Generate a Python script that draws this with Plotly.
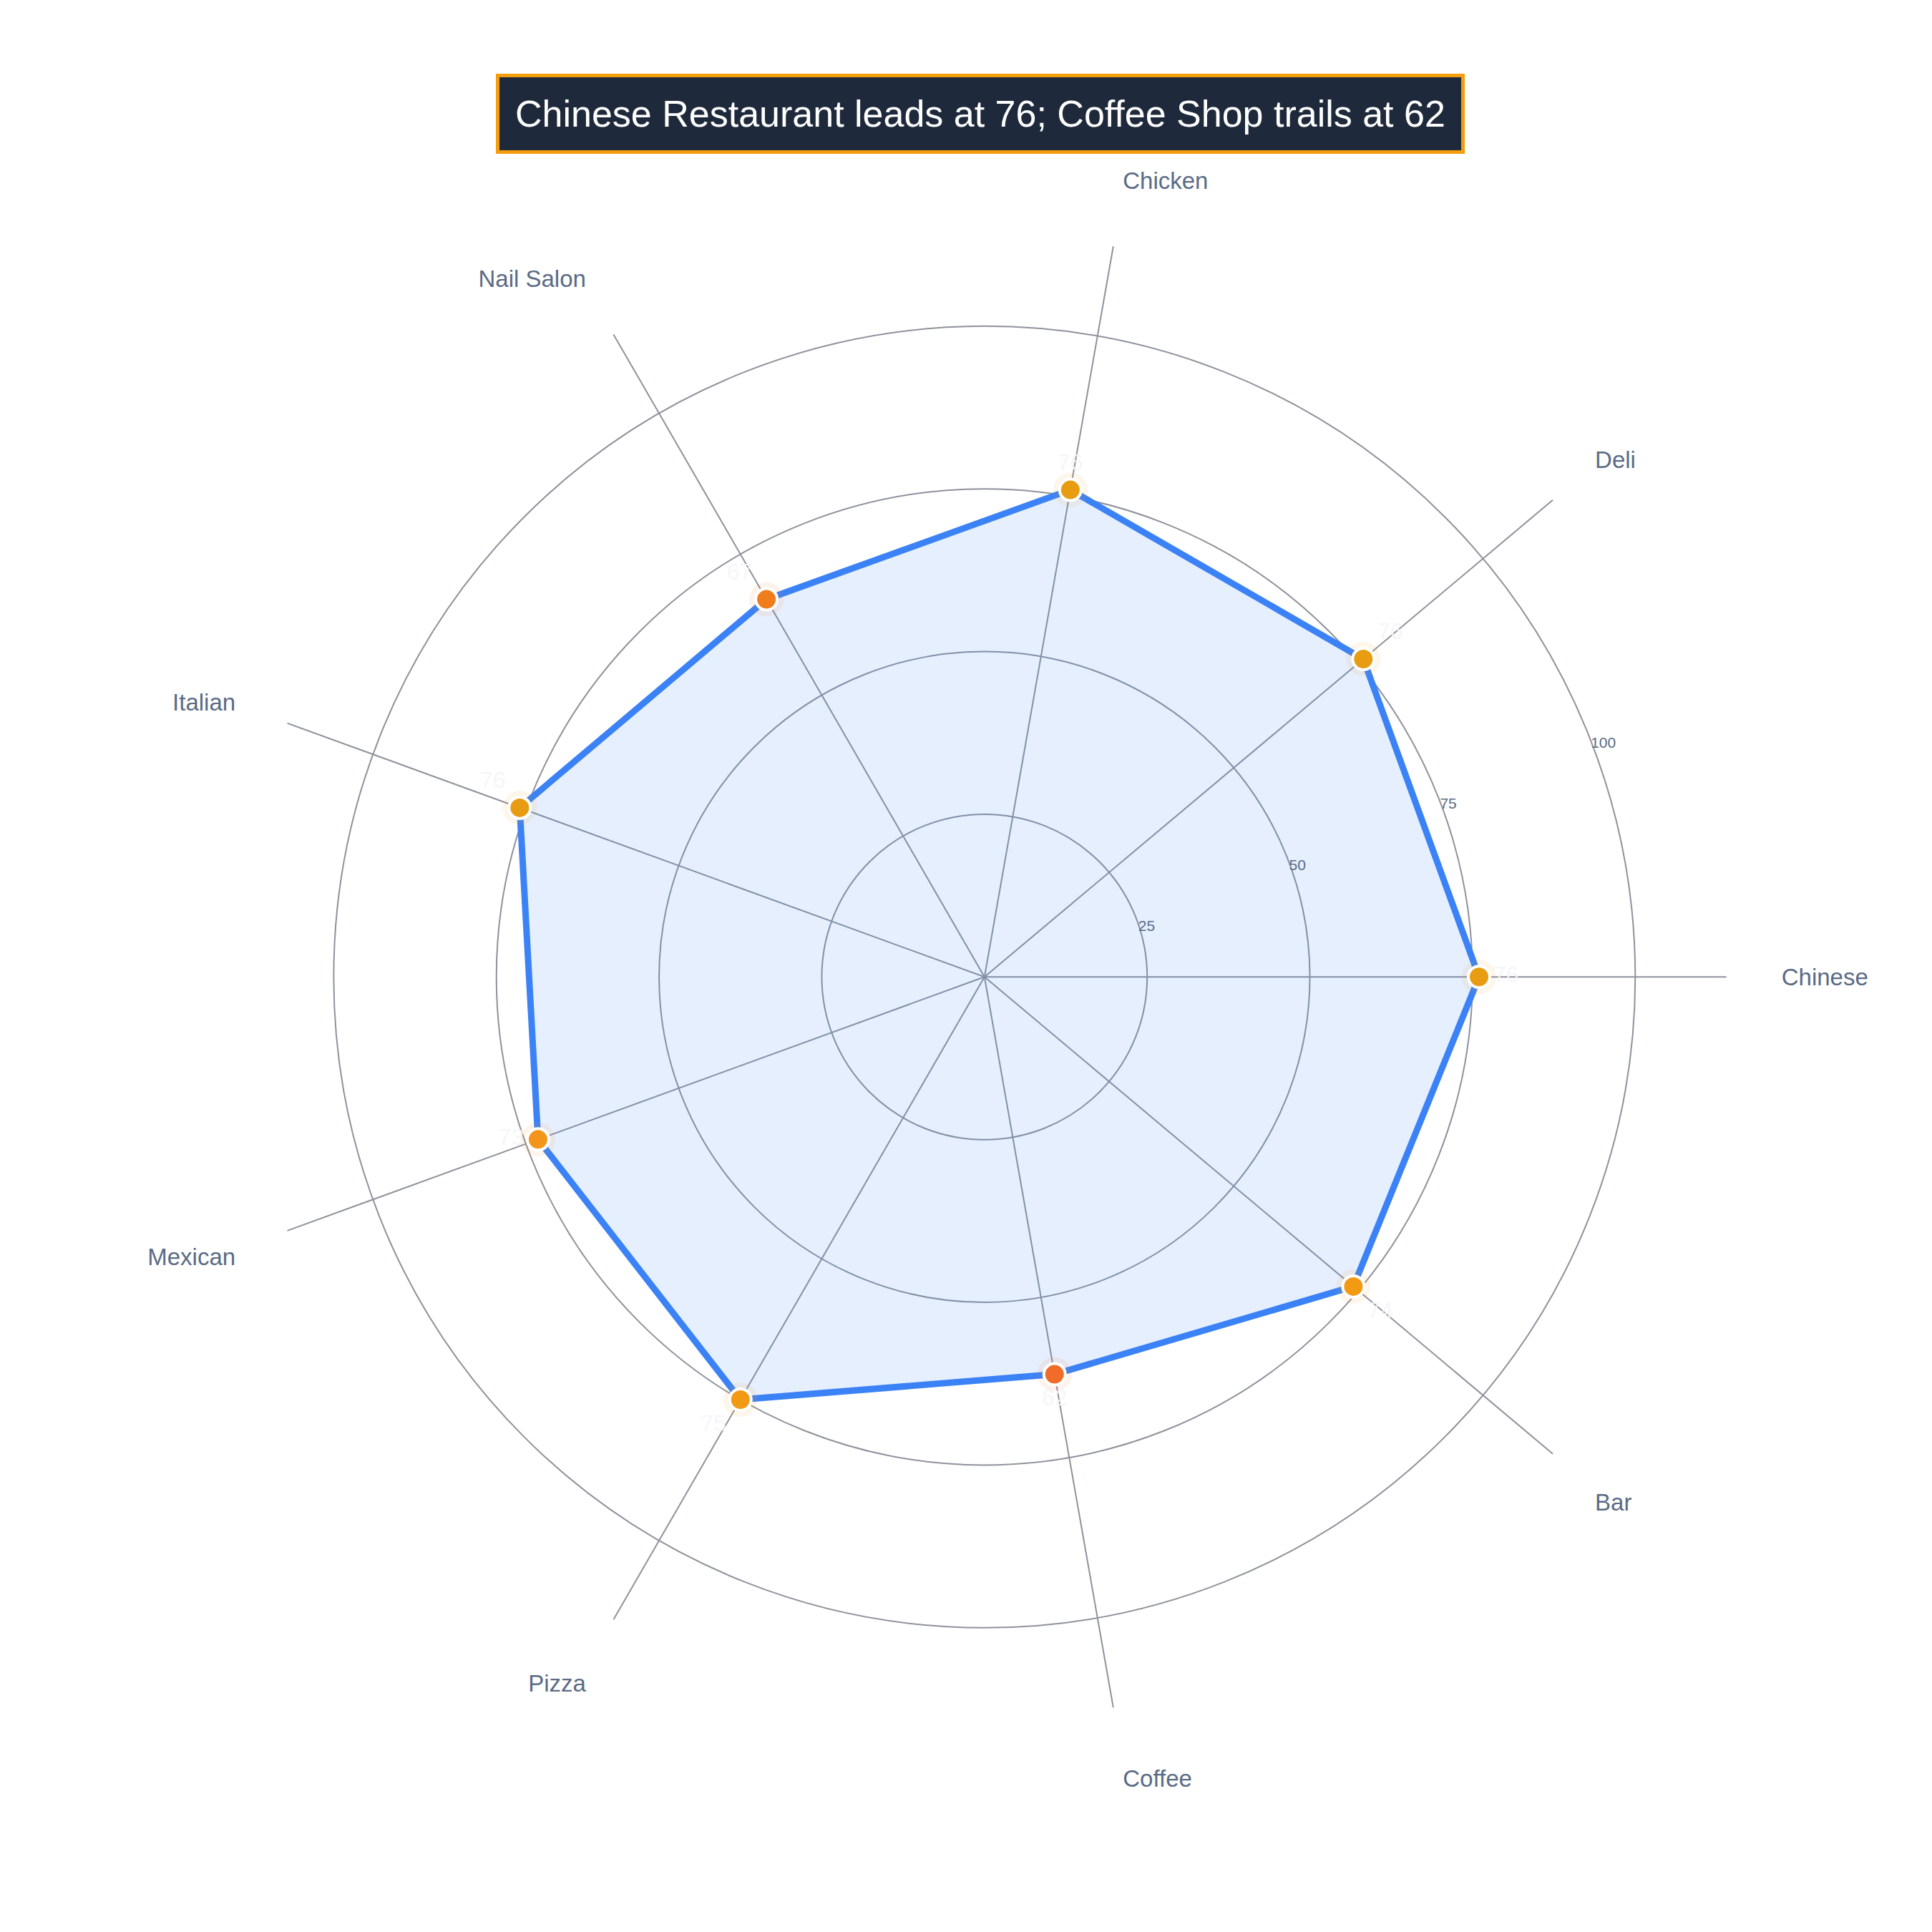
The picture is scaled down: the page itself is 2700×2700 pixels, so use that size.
import plotly.graph_objects as go

categories = ["Chinese", "Deli", "Chicken", "Nail Salon", "Italian", "Mexican", "Pizza", "Coffee", "Bar"]
values = [76, 76, 76, 67, 76, 73, 75, 62, 74]
marker_colors = ["#e89c12", "#e89c12", "#e89c12", "#f07d1c", "#e89c12", "#f2951a", "#f29a14", "#f06c28", "#f29a14"]
text_positions = ["middle right", "top right", "top center", "top left", "top left",
                  "middle left", "bottom left", "bottom center", "bottom right"]
radial_ticks = [25, 50, 75, 100]

theta = categories + [categories[0]]
r = values + [values[0]]

fig = go.Figure()
fig.add_trace(go.Scatterpolar(
    r=r, theta=theta, mode="lines", fill="toself",
    fillcolor="rgba(59,130,246,0.13)",
    line=dict(color="#3b82f6", width=9), hoverinfo="skip", showlegend=False))
fig.add_trace(go.Scatterpolar(
    r=values, theta=categories, mode="markers",
    marker=dict(size=48, color=marker_colors, opacity=0.09),
    hoverinfo="skip", showlegend=False))
fig.add_trace(go.Scatterpolar(
    r=values, theta=categories, mode="markers+text",
    text=[str(v) for v in values], textposition=text_positions,
    textfont=dict(size=32, color="rgba(245,245,248,0.9)", family="Liberation Sans"),
    marker=dict(size=30, color=marker_colors, line=dict(color="white", width=4)),
    showlegend=False))

fig.update_layout(
    width=2700, height=2700,
    paper_bgcolor="white",
    margin=dict(l=0, r=0, t=0, b=0),
    font=dict(family="Liberation Sans"),
    polar=dict(
        domain=dict(x=[0.1226, 0.8906], y=[0.1133, 0.8813]),
        bgcolor="white",
        radialaxis=dict(range=[0, 114], tickvals=radial_ticks, angle=22, tickangle=22,
                        showline=False, gridcolor="#8e929c", gridwidth=2,
                        tickfont=dict(size=21, color="#5a6b85"), ticks=""),
        angularaxis=dict(rotation=0, direction="counterclockwise", showline=False,
                         gridcolor="#8e929c", gridwidth=2, ticks="outside",
                         ticklen=70, tickcolor="rgba(0,0,0,0)",
                         tickfont=dict(size=33, color="#5a6b85")),
    ),
    annotations=[dict(
        text="Chinese Restaurant leads at 76; Coffee Shop trails at 62",
        x=0.5045, y=0.944, xref="paper", yref="paper", xanchor="center", yanchor="middle",
        showarrow=False,
        font=dict(size=52, color="white", family="Liberation Sans"),
        bgcolor="#1e293b", bordercolor="#f59e0b", borderwidth=5, borderpad=22)],
)

fig.write_html("out.html")
